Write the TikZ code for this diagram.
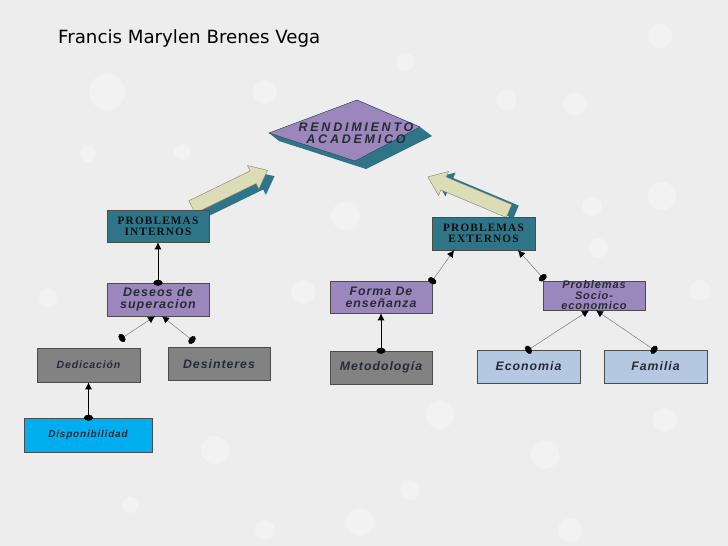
\documentclass[tikz,border=0pt]{standalone}
\usepackage{fontspec}
\setmainfont{Liberation Sans}
\newfontfamily\titlefont{DejaVu Sans}
\newfontfamily\boxfont[LetterSpace=8]{Liberation Sans}
\newfontfamily\probfont[LetterSpace=10]{Liberation Serif}
\newfontfamily\rendfont[LetterSpace=22]{Liberation Sans}
\usetikzlibrary{arrows.meta,calc}
\definecolor{bg}{HTML}{EDEDED}
\definecolor{tealc}{HTML}{2F7487}
\definecolor{purp}{HTML}{9C87BD}
\definecolor{grayb}{HTML}{828282}
\definecolor{cyanb}{HTML}{00AEEF}
\definecolor{lblue}{HTML}{B4C8E2}
\definecolor{beige}{HTML}{DCDDB4}
\definecolor{darktx}{HTML}{262B36}
\tikzset{
  box/.style={draw=black!70, line width=0.5pt, minimum width=102pt, minimum height=33pt, inner sep=1pt, align=center, font=\boxfont\bfseries\itshape\fontsize{12.3}{12}\selectfont, text=darktx},
  probbox/.style={box, fill=tealc, font=\probfont\bfseries\fontsize{11.3}{11}\selectfont, text=black!85!tealc},
  purbox/.style={box, fill=purp},
  graybox/.style={box, fill=grayb},
  bluebox/.style={box, fill=lblue},
  vlink/.style={black, line width=0.9pt, {Circle[length=6pt,width=9pt]}-{Latex[length=7pt,width=7pt]}, shorten <=-3pt},
  dlink/.style={black!55, line width=0.45pt, {Circle[length=6pt,width=9pt,color=black]}-{Latex[length=7pt,width=7pt,color=black]}, shorten <=-3pt},
  drop/.style={white, opacity=0.32},
}
\begin{document}
\begin{tikzpicture}[x=1pt,y=-1pt]
\fill[bg] (0,0) rectangle (728,546);
\useasboundingbox (0,0) rectangle (728,546);
% faint water drops
\foreach \px/\py/\r in {107/92/18, 88/154/8, 182/152/8, 265/92/12, 405/62/9, 506/100/10, 575/104/12, 660/36/12, 662/196/14, 592/206/10, 345/216/14, 303/292/12, 545/455/14, 215/450/14, 440/415/14, 665/420/12, 360/522/14, 570/530/12, 410/490/10, 598/248/10, 48/298/9, 700/290/10, 265/530/10, 130/505/8}
  \fill[drop] (\px,\py) circle[radius=\r];
% title
\node[anchor=west, font=\titlefont\fontsize{18.2}{21}\selectfont, text=black, inner sep=0pt] (title) at (58,38) {Francis Marylen Brenes Vega};
% diamond with teal depth
\fill[tealc] (357,100) -- (420,127) -- (432,136) -- (366,169) -- (279,141) -- (269,133) -- cycle;
\fill[purp] (357,100) -- (420,127) -- (355,161) -- (269,133) -- cycle;
\draw[tealc!60!black, line width=0.4pt] (357,100) -- (420,127) -- (355,161) -- (269,133) -- cycle;
\node[font=\rendfont\bfseries\itshape\fontsize{12.5}{11.5}\selectfont, text=darktx, align=center, inner sep=0pt] (rend) at (356,133) {RENDIMIENTO\\ACADEMICO};
% left block arrow
\begin{scope}[shift={(199,213)}, rotate=25.96]
  \fill[tealc] (0,-7) -- (68,-7) -- (68,-13) -- (84,0) -- (68,13) -- (68,7) -- (0,7) -- cycle;
\end{scope}
\begin{scope}[shift={(192,207)}, rotate=25.96]
  \filldraw[fill=beige, draw=black!50, line width=0.4pt] (0,-7) -- (68,-7) -- (68,-13) -- (84,0) -- (68,13) -- (68,7) -- (0,7) -- cycle;
\end{scope}
% right block arrow
\begin{scope}[shift={(516,212)}, rotate=157.2]
  \fill[tealc] (0,-7) -- (71,-7) -- (71,-13) -- (88,0) -- (71,13) -- (71,7) -- (0,7) -- cycle;
\end{scope}
\begin{scope}[shift={(509,211)}, rotate=157.2]
  \filldraw[fill=beige, draw=black!50, line width=0.4pt] (0,-7) -- (71,-7) -- (71,-13) -- (88,0) -- (71,13) -- (71,7) -- (0,7) -- cycle;
\end{scope}
% boxes
\node[probbox, minimum height=32pt] (pi) at (158,226) {PROBLEMAS\\INTERNOS};
\node[probbox, minimum width=103pt] (pe) at (483.5,233.5) {PROBLEMAS\\EXTERNOS};
\node[purbox, font=\boxfont\bfseries\itshape\fontsize{12.5}{11.5}\selectfont] (des) at (158,299.5) {Deseos de\\superacion};
\node[graybox, minimum width=103pt, minimum height=34pt, font=\boxfont\bfseries\itshape\fontsize{10.5}{10}\selectfont] (ded) at (88.5,365) {Dedicación};
\node[graybox] (dsi) at (219,364) {Desinteres};
\node[box, fill=cyanb, minimum width=128pt, minimum height=34pt, font=\boxfont\bfseries\itshape\fontsize{10}{10}\selectfont] (disp) at (88,435) {Disponibilidad};
\node[purbox, minimum height=32pt] (forma) at (381,297) {Forma De\\enseñanza};
\node[graybox] (met) at (381,367.5) {Metodología};
\node[purbox, minimum height=29pt, inner sep=0pt, font=\boxfont\bfseries\itshape\fontsize{11}{10.5}\selectfont] (soc) at (594,295.5) {Problemas\\Socio-\\economico};
\node[bluebox, minimum width=103pt] (eco) at (528.5,366.5) {Economia};
\node[bluebox, minimum width=103pt] (fam) at (655.5,366.5) {Familia};
% free connector ends
\coordinate (c1) at (122,338);
\coordinate (c2) at (192,340);
% connectors
\draw[vlink] (des.north) -- (pi.south);
\draw[dlink] (c1) -- ([xshift=-3pt]des.south);
\draw[dlink] (c2) -- ([xshift=4pt]des.south);
\draw[vlink] ([xshift=0.5pt]disp.north) -- (ded.south);
\draw[vlink] (met.north) -- (forma.south);
\draw[dlink] (forma.north east) -- ([xshift=-29.5pt]pe.south);
\draw[dlink] ([yshift=3pt]soc.north west) -- ([xshift=34.5pt]pe.south);
\draw[dlink] (eco.north) -- ([xshift=-5pt]soc.south);
\draw[dlink] ([xshift=-1.5pt]fam.north) -- ([xshift=2pt]soc.south);
\end{tikzpicture}
\end{document}
